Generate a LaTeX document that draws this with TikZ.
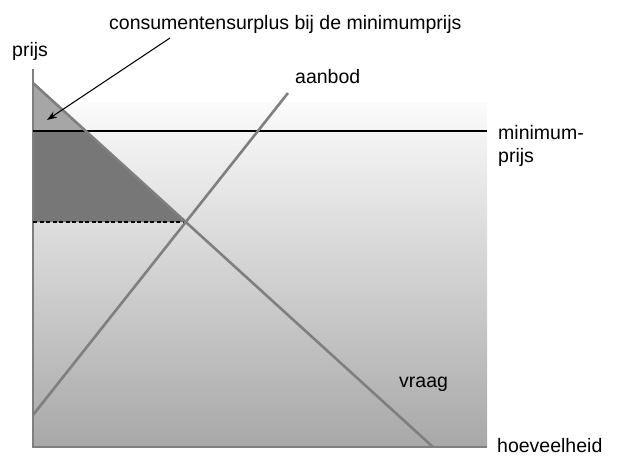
\documentclass[tikz,border=0pt]{standalone}
\usepackage{fontspec}
\setmainfont{Liberation Sans}
\usetikzlibrary{arrows.meta,intersections}

\definecolor{curvegray}{HTML}{7F7F7F}
\definecolor{shadetop}{HTML}{FBFBFB}
\definecolor{shadebottom}{HTML}{A8A8A8}
\definecolor{lightsurplus}{HTML}{A6A6A6}
\definecolor{darksurplus}{HTML}{777777}

\begin{document}
\begin{tikzpicture} [x=1pt,y=-1pt,
    lbl/.style={anchor=base west,inner sep=0pt,font=\fontsize{19.5}{23}\selectfont},
    curve/.style={curvegray,line width=2.6pt}]
    \useasboundingbox (0,0) rectangle (617,455);

    % shaded background
    \shade[top color=shadetop, bottom color=shadebottom] (33,102) rectangle (487,447);

    % demand and supply (paths only, drawn later)
    \path [name path=vraag] (33,83) -- (433,447);
    \path [name path=aanbod] (33,415) -- (288,93);
    \path [name path=minimum] (33,131) -- (487,131);
    \path [name intersections={of=vraag and minimum, by=m}];
    \path [name intersections={of=vraag and aanbod, by=e}];

    % consumer surplus areas
    \fill[lightsurplus] (33,83) -- (m) -- (33,131) -- cycle;
    \fill[darksurplus] (33,131) -- (m) -- (e) -- (e -| 33,0) -- cycle;

    % axes
    \draw[curve] (33,69) -- (33,447) -- (487,447);

    % minimum price and dotted equilibrium price
    \draw[black,line width=2.2pt] (33,131) -- (487,131);
    \draw[black,line width=2pt,dash pattern=on 4pt off 2.5pt] (e -| 33,0) -- (e);

    % the two curves
    \draw[curve] (33,83) -- (433,447);
    \draw[curve] (33,415) -- (288,93);

    % labels
    \node[lbl] (surpluslabel) at (109,29) {consumentensurplus bij de minimumprijs};
    \node[lbl] (prijslabel) at (12,56.5) {prijs};
    \node[lbl] (aanbodlabel) at (295,83) {aanbod};
    \node[lbl] (minlabel) at (498,139) {minimum-};
    \node[lbl] (minlabeltwo) at (498,162) {prijs};
    \node[lbl] (vraaglabel) at (399,387) {vraag};
    \node[lbl] (hoeveelheidlabel) at (497,452) {hoeveelheid};

    % arrow to the small triangle
    \coordinate (arrowstart) at (170,38);
    \coordinate (arrowtip) at (47,120);
    \draw[-{Stealth[length=10pt,width=7pt]},line width=1.1pt] (arrowstart) -- (arrowtip);

\end{tikzpicture}
\end{document}
